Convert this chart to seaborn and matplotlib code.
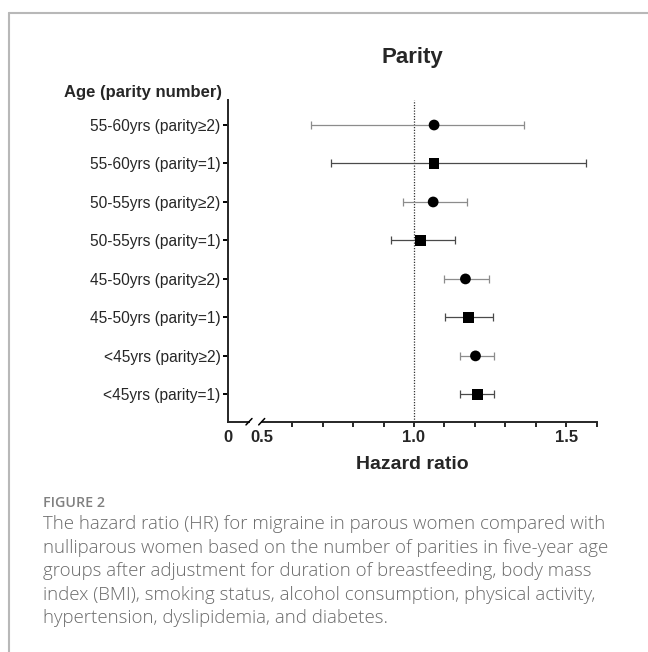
import numpy as np
import pandas as pd
import matplotlib.pyplot as plt
import seaborn as sns
from matplotlib.lines import Line2D

# values
groups = ["55-60yrs (parity≥2)", "55-60yrs (parity=1)",
          "50-55yrs (parity≥2)", "50-55yrs (parity=1)",
          "45-50yrs (parity≥2)", "45-50yrs (parity=1)",
          "<45yrs (parity≥2)", "<45yrs (parity=1)"]
parity = ["≥2", "=1", "≥2", "=1", "≥2", "=1", "≥2", "=1"]
hr = [1.066, 1.066, 1.063, 1.022, 1.169, 1.178, 1.202, 1.208]
ci_low = [0.662, 0.726, 0.965, 0.924, 1.098, 1.102, 1.151, 1.151]
ci_high = [1.360, 1.565, 1.173, 1.134, 1.247, 1.260, 1.264, 1.264]

x_ticks = [0.6, 0.7, 0.8, 0.9, 1.0, 1.1, 1.2, 1.3, 1.4, 1.5, 1.6]
x_labeled = {1.0: "1.0", 1.5: "1.5"}

caption_head = "FIGURE 2"
caption_lines = [
    "The hazard ratio (HR) for migraine in parous women compared with",
    "nulliparous women based on the number of parities in five-year age",
    "groups after adjustment for duration of breastfeeding, body mass",
    "index (BMI), smoking status, alcohol consumption, physical activity,",
    "hypertension, dyslipidemia, and diabetes.",
]

df = pd.DataFrame({"group": groups, "parity": parity, "hr": hr,
                   "lo": ci_low, "hi": ci_high})
df["ypos"] = np.arange(len(df))[::-1] + 1

sns.set_style("ticks")
plt.rcParams["font.family"] = ["Liberation Sans", "DejaVu Sans"]

W, H = 648, 652
fig = plt.figure(figsize=(W / 100, H / 100), dpi=100)


def fx(px):
    return px / W


def fy(py):
    return 1 - py / H


ax_top, ax_bot = 100, 421.7
ax0 = fig.add_axes([fx(227.7), fy(ax_bot), fx(249 - 227.7), (ax_bot - ax_top) / H])
ax1 = fig.add_axes([fx(261.7), fy(ax_bot), fx(596.7 - 261.7), (ax_bot - ax_top) / H],
                   sharey=ax0)

# error bars per marker type
bar_colors = {"≥2": "#8c8c8c", "=1": "#4a4a4a"}
for p, sub in df.groupby("parity"):
    ax1.errorbar(sub["hr"], sub["ypos"],
                 xerr=[sub["hr"] - sub["lo"], sub["hi"] - sub["hr"]],
                 fmt="none", ecolor=bar_colors[p], elinewidth=0.9,
                 capsize=2.7, capthick=0.9, zorder=2)

ax1.axvline(1.0, ls=(0, (1, 1.2)), color="#333333", lw=0.9, zorder=1)

sns.scatterplot(data=df, x="hr", y="ypos", style="parity",
                markers={"≥2": "o", "=1": "s"}, color="black", s=60,
                linewidth=0, legend=False, ax=ax1, zorder=3)

ax0.set_ylim(0.29, 8.65)
ax0.set_xlim(0, 0.32)
ax1.set_xlim(0.5, 1.6)

lw = 1.4
for ax in (ax0, ax1):
    for s in ("top", "right"):
        ax.spines[s].set_visible(False)
    ax.spines["bottom"].set_linewidth(lw)
    ax.set_xlabel("")
    ax.set_ylabel("")
ax1.spines["left"].set_visible(False)
ax0.spines["left"].set_linewidth(lw)

ax0.set_yticks(df["ypos"])
ax0.set_yticklabels(df["group"], fontsize=11.2)
ax0.tick_params(axis="y", length=3.6, width=lw, pad=1.5, color="black")
ax1.tick_params(axis="y", left=False, labelleft=False)

ax0.set_xticks([0])
ax0.set_xticklabels(["0"], fontsize=12, fontweight="bold")
ax0.tick_params(axis="x", length=0, pad=6.1)

ax1.set_xticks(x_ticks)
ax1.set_xticklabels([x_labeled.get(t, "") for t in x_ticks],
                    fontsize=12, fontweight="bold")
ax1.tick_params(axis="x", which="major", length=3.6, width=lw, pad=2.5)
ax1.set_xticks([0.5], minor=True)
ax1.set_xticklabels(["0.5"], minor=True, fontsize=12, fontweight="bold")
ax1.tick_params(axis="x", which="minor", length=0, pad=6.1)

# axis break marks
for cx in (249, 261.7):
    fig.add_artist(Line2D([fx(cx - 3), fx(cx + 3)], [fy(ax_bot + 3.2), fy(ax_bot - 3.2)],
                          transform=fig.transFigure, color="black", lw=1.1))

fig.text(fx(412), fy(62.7), "Parity", ha="center", va="baseline",
         fontsize=16, fontweight="bold")
fig.text(fx(221.7), fy(96.7), "Age (parity number)", ha="right", va="baseline",
         fontsize=12, fontweight="bold")
fig.text(fx(412.5), fy(469.3), "Hazard ratio", ha="center", va="baseline",
         fontsize=14, fontweight="bold")

# frame of the figure panel
frame_c = "#b8b8b8"
fig.add_artist(Line2D([fx(8.5), fx(8.5)], [0, fy(13)], transform=fig.transFigure,
                      color=frame_c, lw=1.5))
fig.add_artist(Line2D([fx(8.5), 1], [fy(13), fy(13)], transform=fig.transFigure,
                      color=frame_c, lw=1.5))

cap_font = ["Open Sans", "DejaVu Sans"]
fig.text(fx(43), fy(507), caption_head, ha="left", va="baseline", fontsize=10.3,
         color="#808080", family=cap_font, fontweight="semibold")
for i, line in enumerate(caption_lines):
    fig.text(fx(43), fy(529.3 + i * 23.5), line, ha="left", va="baseline",
             fontsize=13.4, color="#6a6a6a", family=cap_font, fontweight="light")

fig.savefig("out.png", dpi=100)
